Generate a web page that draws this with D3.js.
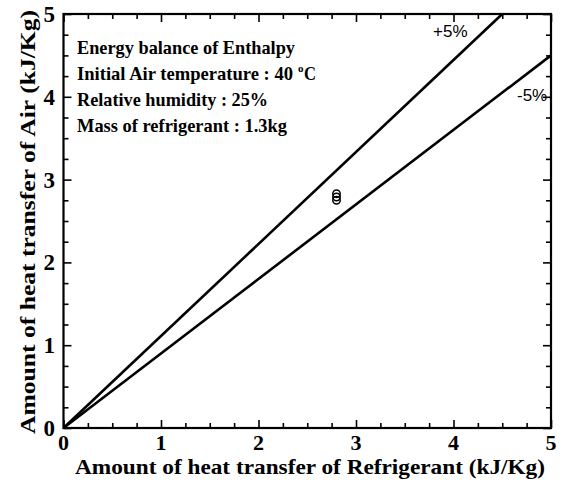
<!DOCTYPE html>
<html>
<head>
<meta charset="utf-8">
<script src="https://cdn.jsdelivr.net/npm/d3@7"></script>
<style>
  html, body { margin: 0; padding: 0; background: #fff; }
  svg { display: block; }
</style>
</head>
<body>
<div id="chart"></div>
<script>
// Axis ranges and ticks
const xDomain = [0, 5];
const yDomain = [0, 5];
const majorTicks = [0, 1, 2, 3, 4, 5];
const minorStep = 0.25;

// ±5% guide lines, each drawn from the origin to its end point
const guideNames = ["+5%", "-5%"];
const guideEndX = [4.5, 5];
const guideEndY = [5, 4.5];

// Measured points (refrigerant side vs. air side, kJ/Kg)
const pointX = [2.8, 2.8, 2.8];
const pointY = [2.83, 2.79, 2.75];

// Annotation lines
const notes = [
  "Energy balance of Enthalpy",
  "Initial Air temperature : 40",
  "Relative humidity : 25%",
  "Mass of refrigerant : 1.3kg"
];

const W = 564, H = 484;
const margin = { left: 63.5, right: 13, top: 14, bottom: 56 };
const pw = W - margin.left - margin.right;
const ph = H - margin.top - margin.bottom;

const svg = d3.select("#chart").append("svg")
  .attr("width", W).attr("height", H);

const x = d3.scaleLinear().domain(xDomain).range([margin.left, margin.left + pw]);
const y = d3.scaleLinear().domain(yDomain).range([margin.top + ph, margin.top]);

const serif = "Liberation Serif, Times New Roman, serif";
const sans = "Liberation Sans, Arial, sans-serif";

const minorTicks = d3.range(xDomain[0], xDomain[1] + 1e-9, minorStep)
  .filter(v => Math.abs(v - Math.round(v)) > 1e-6);

// Inward ticks on all four sides
function tickAxis(axisFn, scale, tx, ty, size, values) {
  return svg.append("g")
    .attr("transform", `translate(${tx},${ty})`)
    .call(axisFn(scale).tickValues(values).tickSize(size).tickFormat(""))
    .call(g => g.select(".domain").remove())
    .call(g => g.selectAll("line").attr("stroke", "#000").attr("stroke-width", 1.6));
}
const bottomY = margin.top + ph, rightX = margin.left + pw;
tickAxis(d3.axisBottom, x, 0, bottomY, -8, majorTicks);
tickAxis(d3.axisBottom, x, 0, bottomY, -5, minorTicks);
tickAxis(d3.axisTop, x, 0, margin.top, -8, majorTicks);
tickAxis(d3.axisTop, x, 0, margin.top, -5, minorTicks);
tickAxis(d3.axisLeft, y, margin.left, 0, -8, majorTicks);
tickAxis(d3.axisLeft, y, margin.left, 0, -5, minorTicks);
tickAxis(d3.axisRight, y, rightX, 0, -8, majorTicks);
tickAxis(d3.axisRight, y, rightX, 0, -5, minorTicks);

// Frame
svg.append("rect")
  .attr("x", margin.left).attr("y", margin.top)
  .attr("width", pw).attr("height", ph)
  .attr("fill", "none").attr("stroke", "#000").attr("stroke-width", 2.2);

// Tick labels
svg.append("g").selectAll("text").data(majorTicks).join("text")
  .attr("x", d => x(d)).attr("y", bottomY + 22)
  .attr("text-anchor", "middle")
  .attr("font-family", serif).attr("font-weight", "bold").attr("font-size", 22)
  .text(d => d);
svg.append("g").selectAll("text").data(majorTicks).join("text")
  .attr("x", 55).attr("y", d => y(d) + 8)
  .attr("text-anchor", "end")
  .attr("font-family", serif).attr("font-weight", "bold").attr("font-size", 23)
  .text(d => d);

// Axis titles
svg.append("text")
  .attr("x", 310).attr("y", 474)
  .attr("text-anchor", "middle")
  .attr("font-family", serif).attr("font-weight", "bold").attr("font-size", 21)
  .attr("textLength", 470).attr("lengthAdjust", "spacingAndGlyphs")
  .text("Amount of heat transfer of Refrigerant (kJ/Kg)");
svg.append("text")
  .attr("transform", "translate(35,222) rotate(-90)")
  .attr("text-anchor", "middle")
  .attr("font-family", serif).attr("font-weight", "bold").attr("font-size", 22)
  .attr("textLength", 424).attr("lengthAdjust", "spacingAndGlyphs")
  .text("Amount of heat transfer of Air (kJ/Kg)");

// Guide lines
const guides = guideNames.map((n, i) => ({ name: n, x2: guideEndX[i], y2: guideEndY[i] }));
svg.append("g").selectAll("line").data(guides).join("line")
  .attr("x1", x(0)).attr("y1", y(0))
  .attr("x2", d => x(d.x2)).attr("y2", d => y(d.y2))
  .attr("stroke", "#000").attr("stroke-width", 2.6);

// Guide labels
svg.append("text")
  .attr("x", 433).attr("y", 37)
  .attr("font-family", sans).attr("font-size", 17)
  .text(guideNames[0]);
svg.append("text")
  .attr("x", 517).attr("y", 101)
  .attr("font-family", sans).attr("font-size", 17)
  .text(guideNames[1]);

// Data points
svg.append("g").selectAll("circle").data(pointX.map((v, i) => [v, pointY[i]])).join("circle")
  .attr("cx", d => x(d[0])).attr("cy", d => y(d[1]))
  .attr("r", 3.7)
  .attr("fill", "none").attr("stroke", "#000").attr("stroke-width", 1.5);

// Annotation block
const noteWidths = [218, 216, 191, 210];
const noteG = svg.append("g")
  .attr("font-family", serif).attr("font-weight", "bold").attr("font-size", 19);
notes.forEach((t, i) => {
  noteG.append("text")
    .attr("x", 77).attr("y", 54 + i * 26)
    .attr("textLength", noteWidths[i]).attr("lengthAdjust", "spacingAndGlyphs")
    .text(t);
  if (i === 1) {
    // degree sign drawn as a raised small "o" followed by "C"
    noteG.append("text").attr("x", 298).attr("y", 54 + 26 - 8)
      .attr("font-size", 11).text("o");
    noteG.append("text").attr("x", 304).attr("y", 54 + 26)
      .attr("textLength", 12).attr("lengthAdjust", "spacingAndGlyphs")
      .text("C");
  }
});
</script>
</body>
</html>
